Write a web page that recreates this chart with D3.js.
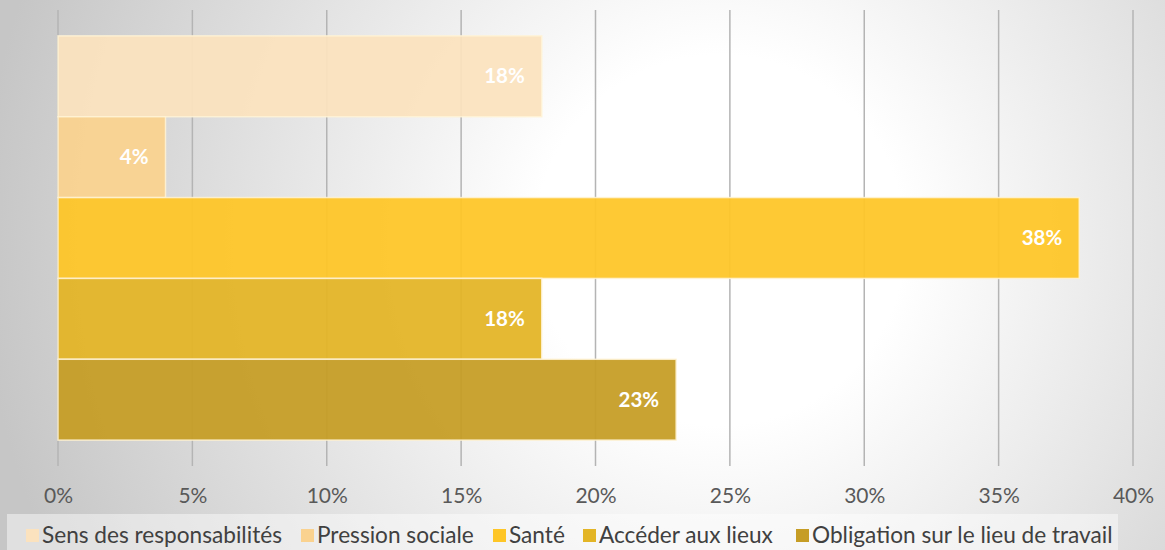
<!DOCTYPE html>
<html><head><meta charset="utf-8">
<script src="https://cdn.jsdelivr.net/npm/d3@7"></script>
<style>html,body{margin:0;padding:0;overflow:hidden;}</style>
</head><body>
<svg id="chart" width="1165" height="550"></svg>
<script>
const seriesNames = ["Sens des responsabilités","Pression sociale","Santé","Accéder aux lieux","Obligation sur le lieu de travail"];
const seriesValues = [18, 4, 38, 18, 23];
const seriesColors = ["#FBE2BE","#FAD28F","#FEC627","#E3B526","#C69D25"];
const tickValues = [0,5,10,15,20,25,30,35,40];

const W = 1165, H = 550;
const FONT = "Lato, 'Open Sans', sans-serif";
const svg = d3.select("#chart");
const defs = svg.append("defs");
const rg = defs.append("radialGradient").attr("id","bg")
  .attr("gradientUnits","userSpaceOnUse")
  .attr("cx",720).attr("cy",240).attr("r",740);
rg.append("stop").attr("offset","0").attr("stop-color","#ffffff");
rg.append("stop").attr("offset","0.25").attr("stop-color","#ffffff");
rg.append("stop").attr("offset","1").attr("stop-color","#c6c6c6");
svg.append("rect").attr("width",W).attr("height",H).attr("fill","url(#bg)");

const x = d3.scaleLinear().domain([0,40]).range([58,1133]);
const y = d3.scaleBand().domain(seriesNames).range([10,466]).paddingInner(0).paddingOuter(0.32);

// gridlines
svg.append("g").selectAll("line").data(tickValues).join("line")
  .attr("x1",d=>x(d)).attr("x2",d=>x(d)).attr("y1",10).attr("y2",466)
  .attr("stroke","#b4b4b4").attr("stroke-width",1.5);

// bars
svg.append("g").selectAll("rect").data(seriesNames).join("rect")
  .attr("x",x(0)).attr("y",d=>y(d))
  .attr("width",(d,i)=>x(seriesValues[i])-x(0))
  .attr("height",y.bandwidth())
  .attr("fill",(d,i)=>seriesColors[i]).attr("fill-opacity",0.94)
  .attr("stroke","#fff3d6").attr("stroke-opacity",0.85).attr("stroke-width",1.5);

// data labels
svg.append("g").selectAll("text").data(seriesNames).join("text")
  .attr("x",(d,i)=>x(seriesValues[i])-17)
  .attr("y",d=>y(d)+y.bandwidth()/2+7)
  .attr("text-anchor","end")
  .attr("font-family",FONT).attr("font-weight","bold")
  .attr("font-size",20.5).attr("fill","#ffffff")
  .text((d,i)=>seriesValues[i]+"%");

// axis
const axis = d3.axisBottom(x).tickValues(tickValues).tickFormat(d=>d+"%").tickSize(0).tickPadding(0);
const ag = svg.append("g").attr("transform","translate(0,486)").call(axis);
ag.select(".domain").remove();
ag.selectAll("text").attr("font-family",FONT).attr("font-size",21)
  .attr("fill","#595959").attr("dy","0.82em");

// legend
svg.append("rect").attr("x",7).attr("y",514).attr("width",1111).attr("height",40)
  .attr("fill","#ffffff").attr("fill-opacity",0.45);
const legendX = [26,301,493,583,796];
const lg = svg.append("g").selectAll("g").data(seriesNames).join("g")
  .attr("transform",(d,i)=>`translate(${legendX[i]},0)`);
lg.append("rect").attr("x",0).attr("y",529).attr("width",13).attr("height",13)
  .attr("fill",(d,i)=>seriesColors[i]);
const lt = lg.append("text").attr("x",16).attr("y",543)
  .attr("font-family",FONT).attr("font-size",20).attr("fill","#404040")
  .text(d=>d);
const w0 = lt.nodes()[0].getComputedTextLength();
lt.attr("font-size", 20*240/w0);
</script>
</body></html>
